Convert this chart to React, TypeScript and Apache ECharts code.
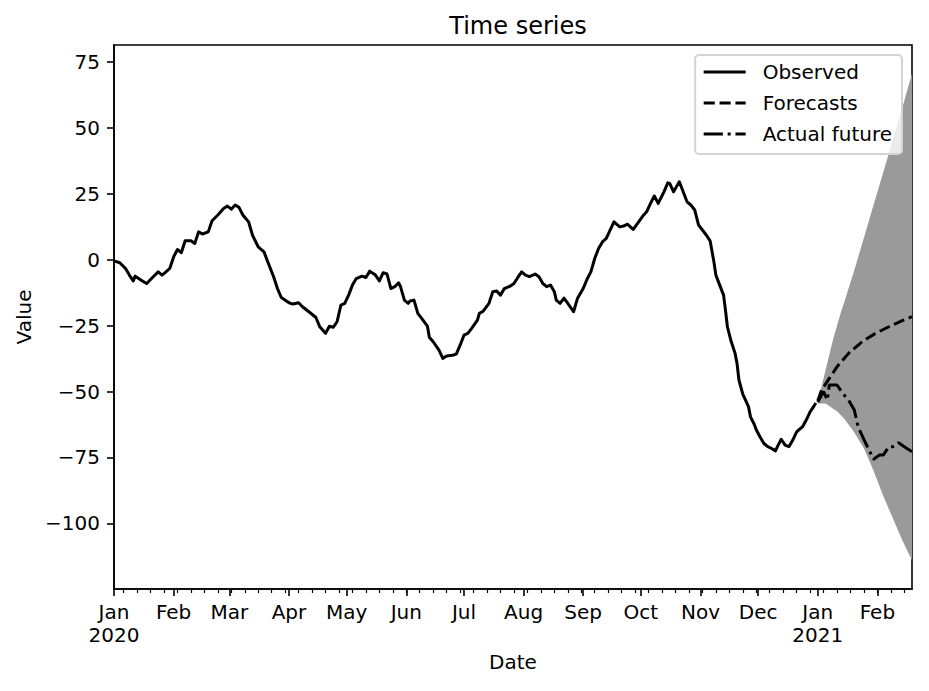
import React, { useEffect, useRef } from 'react';
import * as echarts from 'echarts';

// x values are day offsets from 2020-01-01
const monthTicks = [0, 31, 60, 91, 121, 152, 182, 213, 244, 274, 305, 335, 366, 397];
const monthLabels = ['Jan\n2020', 'Feb', 'Mar', 'Apr', 'May', 'Jun', 'Jul', 'Aug', 'Sep', 'Oct', 'Nov', 'Dec', 'Jan\n2021', 'Feb'];
const valueTicks = [-100, -75, -50, -25, 0, 25, 50, 75];
const firstMonday = 5; // 2020-01-06
const lastDay = 415;

const observed: [number, number][] = [
  [0, -0.4], [3, -1.1], [6, -3.3], [8, -5.8], [10, -8], [11, -6.2], [14, -7.7], [17, -9], [20, -6.7],
  [23, -4.6], [25, -5.8], [27, -4.6], [29, -3.3], [31, 1.1], [33, 3.9], [35, 2.7], [37, 7.2], [40, 7.2],
  [42, 6.2], [44, 10.6], [46, 9.8], [49, 10.6], [51, 14.8], [54, 17], [57, 19.5], [59, 20.4], [61, 19.2],
  [63, 20.8], [65, 19.9], [67, 17], [70, 14.4], [72, 9.4], [75, 4.9], [78, 3], [80, -0.8], [83, -6.4],
  [85, -10.9], [87, -14.3], [91, -16.3], [93, -16.8], [96, -16.3], [98, -17.8], [102, -20.1], [105, -21.9],
  [107, -25.4], [110, -27.9], [112, -25.2], [114, -25.6], [116, -23.5], [118, -17.2], [120, -16.5],
  [122, -13.4], [124, -9.6], [126, -7.1], [129, -6.2], [131, -6.7], [133, -4.3], [136, -5.8], [138, -8],
  [140, -4.9], [142, -5.4], [144, -10.9], [146, -10.2], [148, -8.7], [149, -10.2], [151, -15.3],
  [153, -16.5], [154, -15.6], [156, -15.3], [158, -20.3], [160, -22.2], [163, -25.2], [164, -29.4],
  [166, -31.1], [169, -34.3], [171, -37.4], [173, -36.5], [176, -36.2], [178, -35.8], [180, -32.4],
  [182, -28.6], [184, -27.9], [186, -26], [189, -22.9], [190, -20.3], [192, -19.5], [195, -16.5],
  [197, -12.1], [199, -11.8], [201, -13.4], [203, -10.9], [206, -10], [208, -9], [210, -6.7], [212, -4.6],
  [214, -5.8], [216, -6.4], [219, -5.4], [221, -6.4], [223, -9], [225, -10.2], [227, -9.6], [229, -12.1],
  [230, -15.3], [232, -16.5], [234, -14.5], [236, -16.5], [239, -19.7], [241, -14.7], [244, -10.9],
  [246, -7.4], [248, -4.6], [250, 0.5], [252, 4.3], [254, 6.8], [256, 8.1], [258, 11.3], [260, 14.4],
  [263, 12.5], [265, 12.8], [267, 13.5], [270, 11.5], [272, 13.5], [275, 16.6], [277, 18.2], [279, 21.4],
  [281, 24.2], [283, 21.4], [286, 25.8], [288, 29.2], [289, 29], [291, 25.8], [292, 27.1], [294, 29.6],
  [296, 25.8], [298, 22], [300, 20.8], [302, 18.9], [304, 13.2], [306, 11.3], [308, 9.4], [310, 7.2],
  [312, -0.8], [313, -5.8], [315, -9.6], [317, -13.4], [318, -19.1], [319, -25.4], [321, -31.1],
  [323, -35.5], [324, -39.3], [325, -45.6], [327, -51], [330, -55.8], [331, -59.6], [333, -62.5],
  [334, -64.5], [336, -67.2], [338, -69.7], [340, -70.9], [342, -71.6], [344, -72.5], [345, -70.9],
  [347, -68.1], [349, -70.3], [351, -70.9], [353, -68.4], [355, -65.3], [357, -64], [358, -63.4],
  [360, -60.8], [362, -57.7], [364, -55.5], [365, -54.3],
];

const forecast: [number, number][] = [
  [366, -53.5], [368, -49.4], [372, -45], [376, -40.6], [382, -35.5], [389, -31.1],
  [396, -27.9], [403, -25.4], [410, -23.1], [415, -21.6],
];

const actualFuture: [number, number][] = [
  [366, -54], [367, -52.6], [369, -50], [371, -53.2], [372, -47.5], [376, -47.5], [379, -50.7],
  [382, -53.2], [385, -57], [387, -63.4], [391, -69.7], [395, -75.7], [398, -74.1], [400, -74.1],
  [403, -70.9], [405, -70.9], [408, -69.4], [411, -70.9], [415, -72.8],
];

const bandDays = [366, 368, 370, 372, 374, 376, 378, 380, 385, 390, 395, 400, 405, 410, 415];
const bandLower = [-54.5, -54.5, -54.5, -55.5, -56.5, -57.5, -59, -60.5, -65.5, -71.5, -80, -89.5, -98, -106.5, -114];
const bandUpper = [-53, -48, -42, -36, -30, -25, -20, -15.5, -4, 8.4, 20.8, 33, 45.5, 57.8, 70.7];

const FONT = 'DejaVu Sans';

export default function App() {
  const chartRef = useRef<HTMLDivElement>(null);

  useEffect(() => {
    if (!chartRef.current) return;
    const chart = echarts.init(chartRef.current, null, { renderer: 'svg' });

    const weekTicks: number[] = [];
    for (let d = firstMonday; d <= lastDay; d += 7) weekTicks.push(d);

    const minus = (v: number) => String(v).replace('-', '\u2212');

    // confidence band drawn as one polygon through the axis scales
    const bandData = bandDays.map((d, i) => [d, bandLower[i], bandUpper[i]]);
    const renderBand = (params: any, api: any) => {
      if (params.dataIndex !== 0) return null;
      const upper = bandDays.map((d, i) => api.coord([d, bandUpper[i]]));
      const lower = bandDays.map((d, i) => api.coord([d, bandLower[i]])).reverse();
      return {
        type: 'polygon',
        shape: { points: upper.concat(lower) },
        style: { fill: '#9a9a9a', stroke: 'none' },
      };
    };

    const option = {
      animation: false,
      backgroundColor: '#fff',
      textStyle: { fontFamily: FONT, color: '#000' },
      title: {
        text: 'Time series',
        left: 513,
        top: 9,
        textAlign: 'center',
        textStyle: { fontFamily: FONT, fontSize: 24, fontWeight: 'normal', color: '#000' },
      },
      grid: {
        left: 114,
        right: 17,
        top: 45,
        bottom: 102,
        show: true,
        borderColor: '#000',
        borderWidth: 1.6,
        backgroundColor: 'transparent',
        outerBoundsMode: 'none',
      },
      legend: {
        orient: 'vertical',
        right: 27,
        top: 55,
        itemWidth: 42,
        itemHeight: 20,
        itemGap: 11,
        padding: [7, 10, 10, 7],
        backgroundColor: 'rgba(255,255,255,0.8)',
        borderColor: '#d4d4d4',
        borderWidth: 2,
        borderRadius: 4,
        itemStyle: { opacity: 0 },
        lineStyle: { width: 3 },
        textStyle: { fontFamily: FONT, fontSize: 20, color: '#000', lineHeight: 20, padding: [0, 0, 0, 12] },
        data: ['Observed', 'Forecasts', 'Actual future'],
      },
      xAxis: [
        {
          type: 'value',
          min: 0,
          max: lastDay,
          position: 'bottom',
          name: 'Date',
          nameLocation: 'middle',
          nameGap: 63,
          nameTextStyle: { fontFamily: FONT, fontSize: 20, color: '#000' },
          splitLine: { show: false },
          axisLine: { show: true, onZero: false, lineStyle: { color: '#000', width: 1.6 } },
          axisTick: { show: true, length: 7, customValues: monthTicks, lineStyle: { color: '#000', width: 1.6 } },
          axisLabel: {
            customValues: monthTicks,
            margin: 11,
            fontSize: 20,
            lineHeight: 23,
            color: '#000',
            fontFamily: FONT,
            formatter: (v: number) => monthLabels[monthTicks.indexOf(v)] ?? '',
          },
        },
        {
          type: 'value',
          min: 0,
          max: lastDay,
          position: 'bottom',
          offset: 0,
          splitLine: { show: false },
          axisLine: { show: false, onZero: false },
          axisLabel: { show: false },
          axisTick: { show: true, length: 4, customValues: weekTicks, lineStyle: { color: '#000', width: 1.2 } },
        },
      ],
      yAxis: {
        type: 'value',
        min: -124.9,
        max: 81.5,
        name: 'Value',
        nameLocation: 'middle',
        nameGap: 78,
        nameTextStyle: { fontFamily: FONT, fontSize: 20, color: '#000' },
        splitLine: { show: false },
        axisLine: { show: true, onZero: false, lineStyle: { color: '#000', width: 1.6 } },
        axisTick: { show: true, length: 7, customValues: valueTicks, lineStyle: { color: '#000', width: 1.6 } },
        axisLabel: {
          customValues: valueTicks,
          margin: 14,
          fontSize: 20,
          color: '#000',
          fontFamily: FONT,
          formatter: (v: number) => minus(v),
        },
      },
      series: [
        {
          name: 'Prediction interval',
          type: 'custom',
          renderItem: renderBand,
          encode: { x: 0, y: [1, 2] },
          data: bandData,
          clip: true,
          silent: true,
          z: 1,
        },
        {
          name: 'Observed',
          type: 'line',
          symbol: 'none',
          color: '#000',
          lineStyle: { color: '#000', width: 3, join: 'round' },
          data: observed,
          z: 3,
        },
        {
          name: 'Forecasts',
          type: 'line',
          symbol: 'none',
          color: '#000',
          lineStyle: { color: '#000', width: 3, type: [11.1, 4.8] },
          data: forecast,
          z: 3,
        },
        {
          name: 'Actual future',
          type: 'line',
          symbol: 'none',
          color: '#000',
          lineStyle: { color: '#000', width: 3, type: [19.2, 4.8, 3, 4.8] },
          data: actualFuture,
          z: 3,
        },
      ],
    };

    chart.setOption(option);
    return () => {
      chart.dispose();
    };
  }, []);

  return (
    <div
      ref={chartRef}
      style={{ position: 'absolute', left: 0, top: 0, width: '929px', height: '691px' }}
    />
  );
}
